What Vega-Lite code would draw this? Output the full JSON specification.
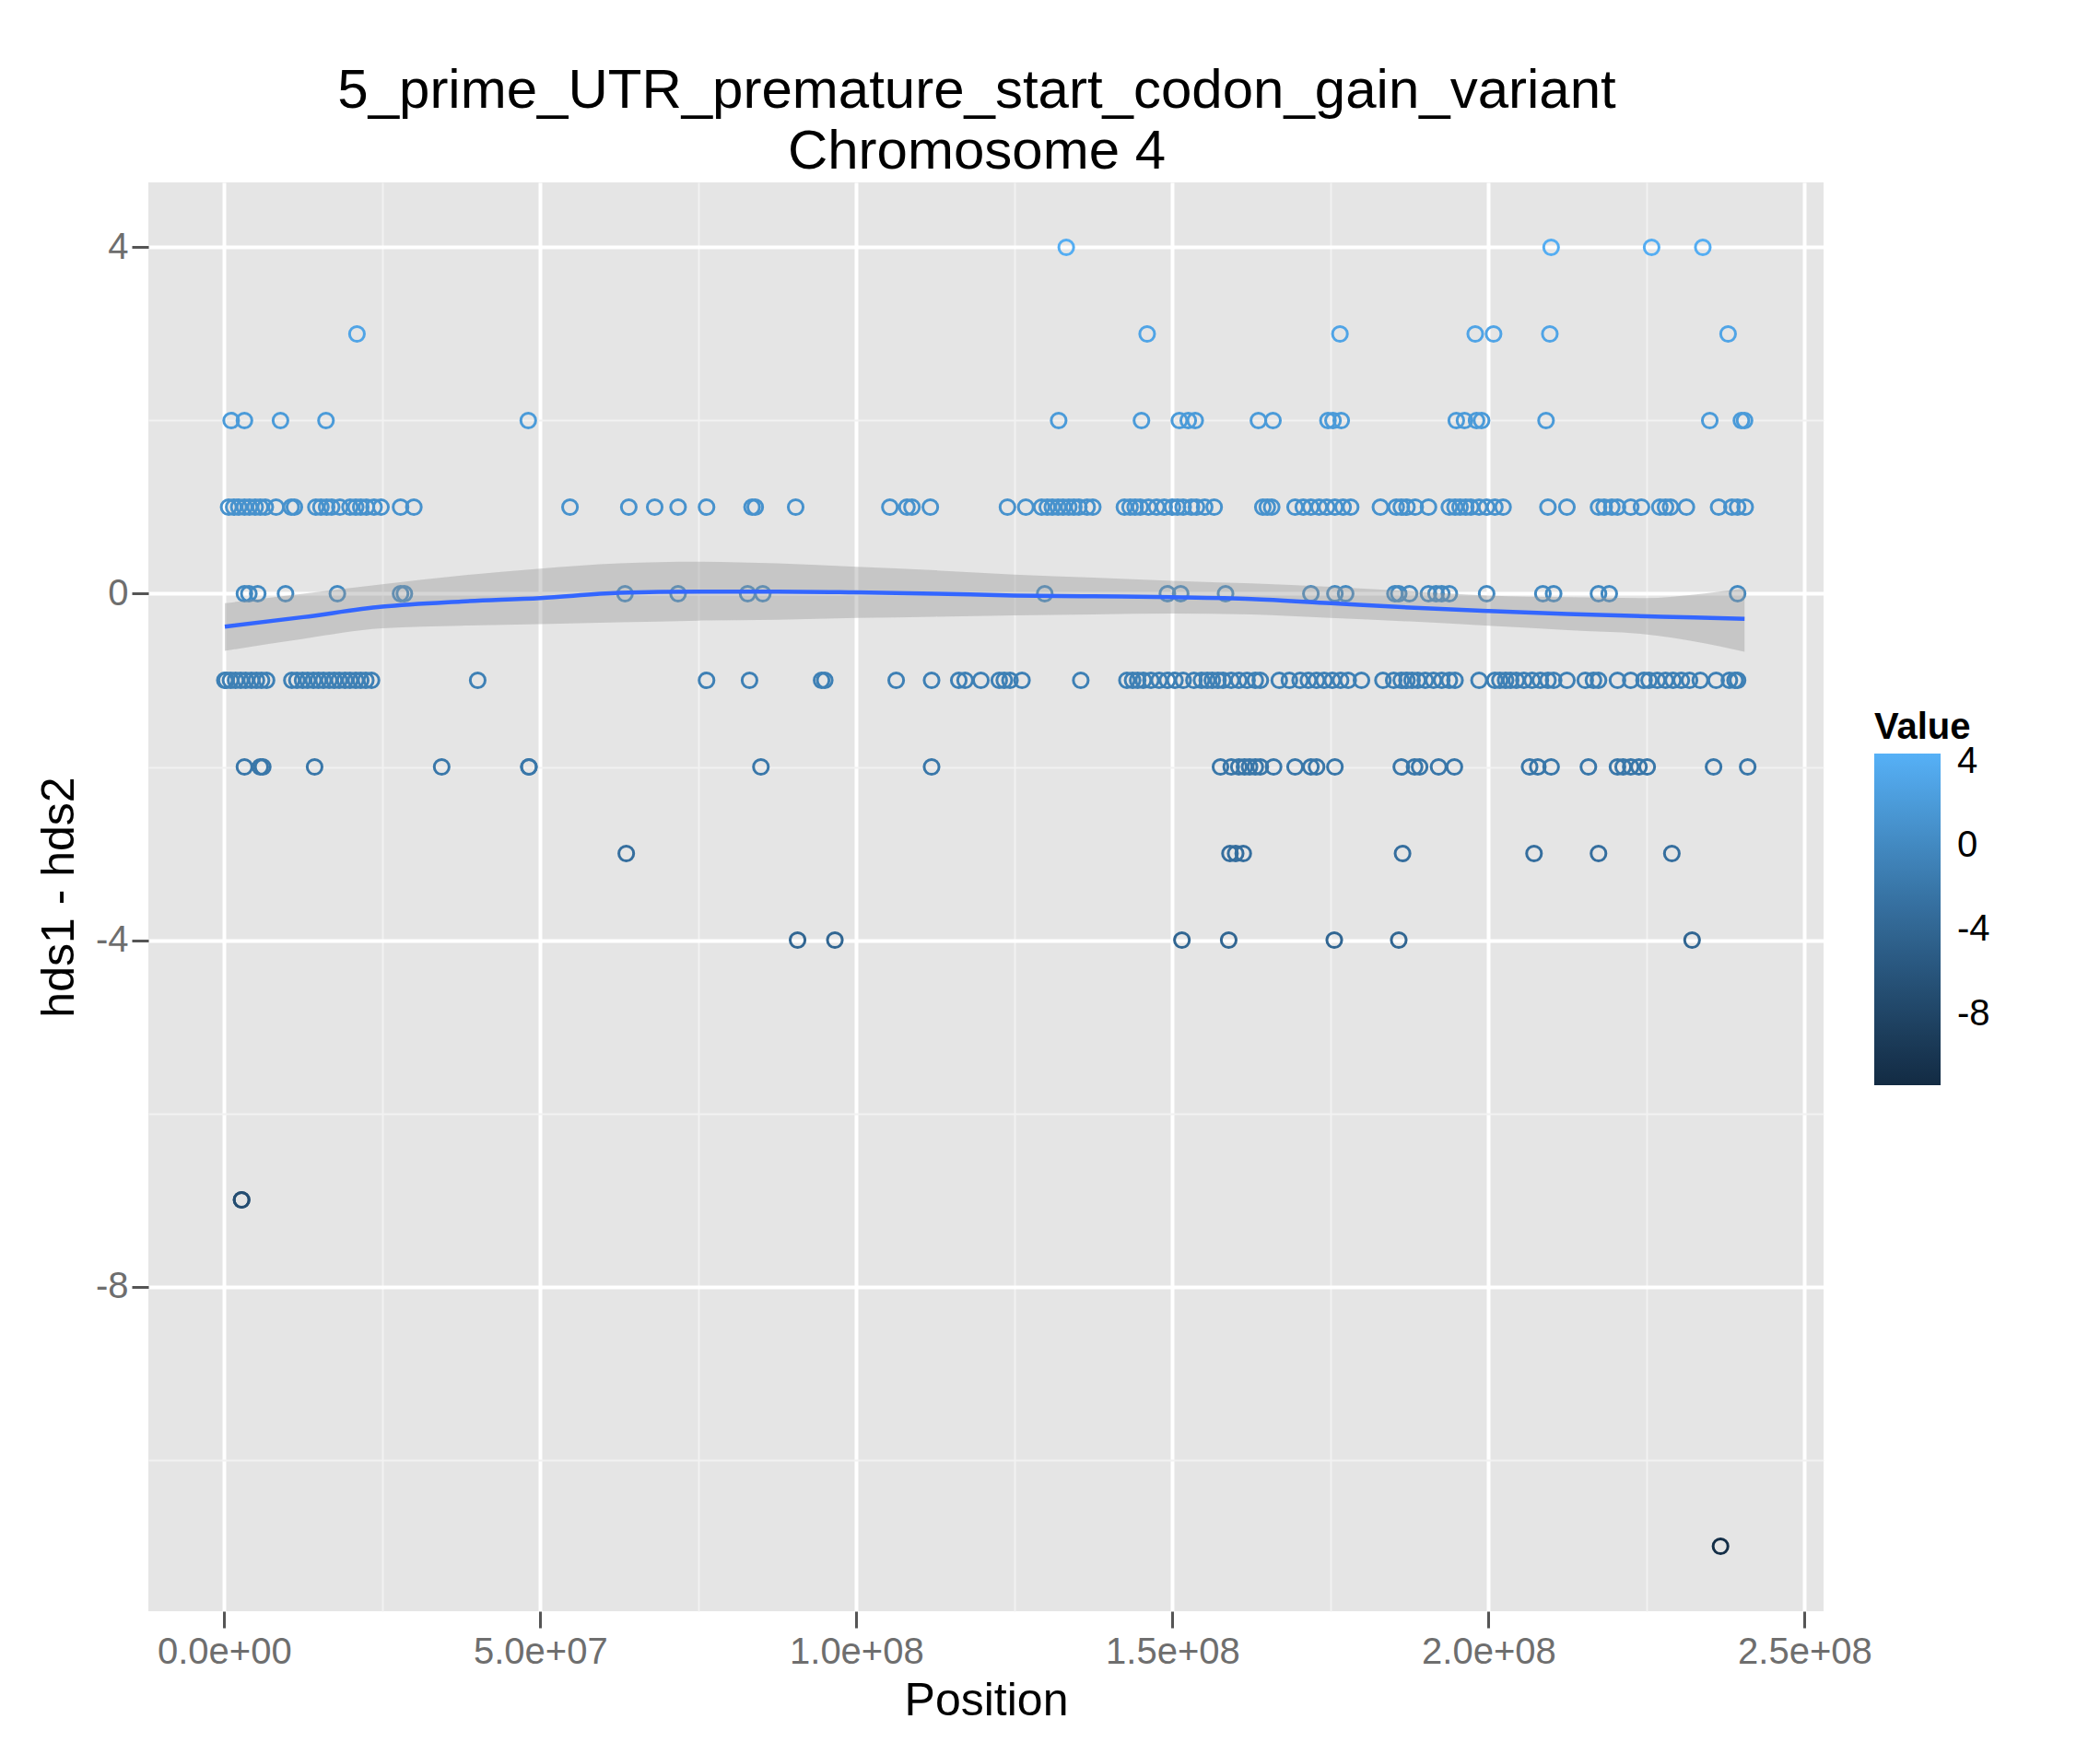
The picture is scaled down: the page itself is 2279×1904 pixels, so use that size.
{
  "$schema": "https://vega.github.io/schema/vega-lite/v6.json",
  "width": 1818,
  "height": 1551,
  "autosize": {"type": "none"},
  "padding": {"left": 161, "top": 198, "right": 300, "bottom": 155},
  "background": "white",
  "config": {
    "font": "Liberation Sans",
    "view": {"fill": "#E5E5E5", "stroke": null}
  },
  "title": {
    "text": ["5_prime_UTR_premature_start_codon_gain_variant", "Chromosome 4"],
    "fontSize": 60, "fontWeight": "normal", "color": "black",
    "anchor": "middle", "lineHeight": 66, "offset": 2, "dx": -10
  },
  "datasets": {
    "pts": [
      {"pos": 133200000, "v": 4}, {"pos": 209900000, "v": 4}, {"pos": 225800000, "v": 4}, {"pos": 233900000, "v": 4},
      {"pos": 21000000, "v": 3}, {"pos": 146000000, "v": 3}, {"pos": 176500000, "v": 3}, {"pos": 197900000, "v": 3},
      {"pos": 200800000, "v": 3}, {"pos": 209700000, "v": 3}, {"pos": 237900000, "v": 3},
      {"pos": 1100000, "v": 2}, {"pos": 3200000, "v": 2}, {"pos": 8900000, "v": 2}, {"pos": 16100000, "v": 2},
      {"pos": 48100000, "v": 2}, {"pos": 132000000, "v": 2}, {"pos": 145100000, "v": 2}, {"pos": 151100000, "v": 2},
      {"pos": 152500000, "v": 2}, {"pos": 153600000, "v": 2}, {"pos": 163600000, "v": 2}, {"pos": 165900000, "v": 2},
      {"pos": 174600000, "v": 2}, {"pos": 175400000, "v": 2}, {"pos": 176700000, "v": 2}, {"pos": 194900000, "v": 2},
      {"pos": 196200000, "v": 2}, {"pos": 198100000, "v": 2}, {"pos": 198900000, "v": 2}, {"pos": 209100000, "v": 2},
      {"pos": 235000000, "v": 2}, {"pos": 240000000, "v": 2}, {"pos": 240500000, "v": 2},
      {"pos": 700000, "v": 1}, {"pos": 1500000, "v": 1}, {"pos": 2300000, "v": 1}, {"pos": 3200000, "v": 1},
      {"pos": 4000000, "v": 1}, {"pos": 4900000, "v": 1}, {"pos": 5700000, "v": 1}, {"pos": 6500000, "v": 1},
      {"pos": 8200000, "v": 1}, {"pos": 10600000, "v": 1}, {"pos": 11100000, "v": 1}, {"pos": 14500000, "v": 1},
      {"pos": 15300000, "v": 1}, {"pos": 16200000, "v": 1}, {"pos": 17000000, "v": 1}, {"pos": 18300000, "v": 1},
      {"pos": 19900000, "v": 1}, {"pos": 20800000, "v": 1}, {"pos": 21600000, "v": 1}, {"pos": 22500000, "v": 1},
      {"pos": 23700000, "v": 1}, {"pos": 24800000, "v": 1}, {"pos": 27900000, "v": 1}, {"pos": 30000000, "v": 1},
      {"pos": 54700000, "v": 1}, {"pos": 64000000, "v": 1}, {"pos": 68100000, "v": 1}, {"pos": 71800000, "v": 1},
      {"pos": 76300000, "v": 1}, {"pos": 83500000, "v": 1}, {"pos": 84000000, "v": 1}, {"pos": 90400000, "v": 1},
      {"pos": 105300000, "v": 1}, {"pos": 108000000, "v": 1}, {"pos": 108800000, "v": 1}, {"pos": 111700000, "v": 1},
      {"pos": 123900000, "v": 1}, {"pos": 126800000, "v": 1}, {"pos": 129300000, "v": 1}, {"pos": 130200000, "v": 1},
      {"pos": 131000000, "v": 1}, {"pos": 131900000, "v": 1}, {"pos": 132700000, "v": 1}, {"pos": 133600000, "v": 1},
      {"pos": 134400000, "v": 1}, {"pos": 135200000, "v": 1}, {"pos": 136500000, "v": 1}, {"pos": 137400000, "v": 1},
      {"pos": 142400000, "v": 1}, {"pos": 143300000, "v": 1}, {"pos": 144100000, "v": 1}, {"pos": 144900000, "v": 1},
      {"pos": 146200000, "v": 1}, {"pos": 147500000, "v": 1}, {"pos": 148700000, "v": 1}, {"pos": 150000000, "v": 1},
      {"pos": 150800000, "v": 1}, {"pos": 151700000, "v": 1}, {"pos": 153000000, "v": 1}, {"pos": 153800000, "v": 1},
      {"pos": 155100000, "v": 1}, {"pos": 156600000, "v": 1}, {"pos": 164300000, "v": 1}, {"pos": 165000000, "v": 1},
      {"pos": 165700000, "v": 1}, {"pos": 169400000, "v": 1}, {"pos": 170700000, "v": 1}, {"pos": 171900000, "v": 1},
      {"pos": 173200000, "v": 1}, {"pos": 174400000, "v": 1}, {"pos": 175700000, "v": 1}, {"pos": 177000000, "v": 1},
      {"pos": 178200000, "v": 1}, {"pos": 182900000, "v": 1}, {"pos": 185400000, "v": 1}, {"pos": 186200000, "v": 1},
      {"pos": 187100000, "v": 1}, {"pos": 188400000, "v": 1}, {"pos": 190500000, "v": 1}, {"pos": 193800000, "v": 1},
      {"pos": 194700000, "v": 1}, {"pos": 195500000, "v": 1}, {"pos": 196400000, "v": 1}, {"pos": 197200000, "v": 1},
      {"pos": 198500000, "v": 1}, {"pos": 199700000, "v": 1}, {"pos": 201000000, "v": 1}, {"pos": 202300000, "v": 1},
      {"pos": 209400000, "v": 1}, {"pos": 212400000, "v": 1}, {"pos": 217400000, "v": 1}, {"pos": 218300000, "v": 1},
      {"pos": 219500000, "v": 1}, {"pos": 220400000, "v": 1}, {"pos": 222500000, "v": 1}, {"pos": 224200000, "v": 1},
      {"pos": 227100000, "v": 1}, {"pos": 228000000, "v": 1}, {"pos": 228800000, "v": 1}, {"pos": 231300000, "v": 1},
      {"pos": 236400000, "v": 1}, {"pos": 238500000, "v": 1}, {"pos": 239400000, "v": 1}, {"pos": 240600000, "v": 1},
      {"pos": 3200000, "v": 0}, {"pos": 3900000, "v": 0}, {"pos": 5300000, "v": 0}, {"pos": 9700000, "v": 0},
      {"pos": 17900000, "v": 0}, {"pos": 27900000, "v": 0}, {"pos": 28500000, "v": 0}, {"pos": 63400000, "v": 0},
      {"pos": 71800000, "v": 0}, {"pos": 82800000, "v": 0}, {"pos": 85200000, "v": 0}, {"pos": 129800000, "v": 0},
      {"pos": 149200000, "v": 0}, {"pos": 151300000, "v": 0}, {"pos": 158400000, "v": 0}, {"pos": 171900000, "v": 0},
      {"pos": 175700000, "v": 0}, {"pos": 177400000, "v": 0}, {"pos": 185200000, "v": 0}, {"pos": 185800000, "v": 0},
      {"pos": 187500000, "v": 0}, {"pos": 190500000, "v": 0}, {"pos": 191700000, "v": 0}, {"pos": 192600000, "v": 0},
      {"pos": 193800000, "v": 0}, {"pos": 199700000, "v": 0}, {"pos": 208600000, "v": 0}, {"pos": 210300000, "v": 0},
      {"pos": 217400000, "v": 0}, {"pos": 219100000, "v": 0}, {"pos": 239400000, "v": 0},
      {"pos": 100000, "v": -1}, {"pos": 300000, "v": -1}, {"pos": 1000000, "v": -1}, {"pos": 1800000, "v": -1},
      {"pos": 2600000, "v": -1}, {"pos": 3400000, "v": -1}, {"pos": 4300000, "v": -1}, {"pos": 5100000, "v": -1},
      {"pos": 5900000, "v": -1}, {"pos": 6700000, "v": -1}, {"pos": 10700000, "v": -1}, {"pos": 11500000, "v": -1},
      {"pos": 12400000, "v": -1}, {"pos": 13200000, "v": -1}, {"pos": 14100000, "v": -1}, {"pos": 14900000, "v": -1},
      {"pos": 15700000, "v": -1}, {"pos": 16600000, "v": -1}, {"pos": 17400000, "v": -1}, {"pos": 18200000, "v": -1},
      {"pos": 19100000, "v": -1}, {"pos": 19900000, "v": -1}, {"pos": 20800000, "v": -1}, {"pos": 21600000, "v": -1},
      {"pos": 22400000, "v": -1}, {"pos": 23300000, "v": -1}, {"pos": 40100000, "v": -1}, {"pos": 76300000, "v": -1},
      {"pos": 83100000, "v": -1}, {"pos": 94500000, "v": -1}, {"pos": 95000000, "v": -1}, {"pos": 106300000, "v": -1},
      {"pos": 111900000, "v": -1}, {"pos": 116200000, "v": -1}, {"pos": 117200000, "v": -1}, {"pos": 119700000, "v": -1},
      {"pos": 122600000, "v": -1}, {"pos": 123400000, "v": -1}, {"pos": 124300000, "v": -1}, {"pos": 126200000, "v": -1},
      {"pos": 135500000, "v": -1}, {"pos": 142800000, "v": -1}, {"pos": 143700000, "v": -1}, {"pos": 144500000, "v": -1},
      {"pos": 145400000, "v": -1}, {"pos": 146600000, "v": -1}, {"pos": 147900000, "v": -1}, {"pos": 149200000, "v": -1},
      {"pos": 150400000, "v": -1}, {"pos": 151700000, "v": -1}, {"pos": 153400000, "v": -1}, {"pos": 154600000, "v": -1},
      {"pos": 155500000, "v": -1}, {"pos": 156300000, "v": -1}, {"pos": 157200000, "v": -1}, {"pos": 158000000, "v": -1},
      {"pos": 159300000, "v": -1}, {"pos": 160500000, "v": -1}, {"pos": 161800000, "v": -1}, {"pos": 163100000, "v": -1},
      {"pos": 163900000, "v": -1}, {"pos": 166900000, "v": -1}, {"pos": 168500000, "v": -1}, {"pos": 170200000, "v": -1},
      {"pos": 171500000, "v": -1}, {"pos": 172800000, "v": -1}, {"pos": 174000000, "v": -1}, {"pos": 175300000, "v": -1},
      {"pos": 176600000, "v": -1}, {"pos": 177800000, "v": -1}, {"pos": 179900000, "v": -1}, {"pos": 183300000, "v": -1},
      {"pos": 185000000, "v": -1}, {"pos": 186200000, "v": -1}, {"pos": 187100000, "v": -1}, {"pos": 187900000, "v": -1},
      {"pos": 188800000, "v": -1}, {"pos": 190000000, "v": -1}, {"pos": 191300000, "v": -1}, {"pos": 192600000, "v": -1},
      {"pos": 193800000, "v": -1}, {"pos": 194700000, "v": -1}, {"pos": 198500000, "v": -1}, {"pos": 201000000, "v": -1},
      {"pos": 201800000, "v": -1}, {"pos": 202700000, "v": -1}, {"pos": 203500000, "v": -1}, {"pos": 204400000, "v": -1},
      {"pos": 205600000, "v": -1}, {"pos": 206900000, "v": -1}, {"pos": 208200000, "v": -1}, {"pos": 209400000, "v": -1},
      {"pos": 210300000, "v": -1}, {"pos": 212400000, "v": -1}, {"pos": 215300000, "v": -1}, {"pos": 216600000, "v": -1},
      {"pos": 217400000, "v": -1}, {"pos": 220400000, "v": -1}, {"pos": 222500000, "v": -1}, {"pos": 224600000, "v": -1},
      {"pos": 225400000, "v": -1}, {"pos": 226700000, "v": -1}, {"pos": 228000000, "v": -1}, {"pos": 229200000, "v": -1},
      {"pos": 230500000, "v": -1}, {"pos": 231800000, "v": -1}, {"pos": 233500000, "v": -1}, {"pos": 236000000, "v": -1},
      {"pos": 238100000, "v": -1}, {"pos": 239000000, "v": -1}, {"pos": 239400000, "v": -1},
      {"pos": 3200000, "v": -2}, {"pos": 5700000, "v": -2}, {"pos": 6100000, "v": -2}, {"pos": 14300000, "v": -2},
      {"pos": 34400000, "v": -2}, {"pos": 48200000, "v": -2}, {"pos": 48200000, "v": -2}, {"pos": 84900000, "v": -2},
      {"pos": 111900000, "v": -2}, {"pos": 157600000, "v": -2}, {"pos": 159300000, "v": -2}, {"pos": 160500000, "v": -2},
      {"pos": 161400000, "v": -2}, {"pos": 162200000, "v": -2}, {"pos": 163100000, "v": -2}, {"pos": 163900000, "v": -2},
      {"pos": 166000000, "v": -2}, {"pos": 169400000, "v": -2}, {"pos": 171900000, "v": -2}, {"pos": 172800000, "v": -2},
      {"pos": 175700000, "v": -2}, {"pos": 186200000, "v": -2}, {"pos": 188300000, "v": -2}, {"pos": 189100000, "v": -2},
      {"pos": 192100000, "v": -2}, {"pos": 194600000, "v": -2}, {"pos": 206500000, "v": -2}, {"pos": 207800000, "v": -2},
      {"pos": 209900000, "v": -2}, {"pos": 215800000, "v": -2}, {"pos": 220400000, "v": -2}, {"pos": 221300000, "v": -2},
      {"pos": 222500000, "v": -2}, {"pos": 223800000, "v": -2}, {"pos": 225100000, "v": -2}, {"pos": 235600000, "v": -2},
      {"pos": 241000000, "v": -2},
      {"pos": 63600000, "v": -3}, {"pos": 159100000, "v": -3}, {"pos": 160000000, "v": -3}, {"pos": 161200000, "v": -3},
      {"pos": 186400000, "v": -3}, {"pos": 207200000, "v": -3}, {"pos": 217400000, "v": -3}, {"pos": 229000000, "v": -3},
      {"pos": 90700000, "v": -4}, {"pos": 96600000, "v": -4}, {"pos": 151500000, "v": -4}, {"pos": 158900000, "v": -4},
      {"pos": 175600000, "v": -4}, {"pos": 185800000, "v": -4}, {"pos": 232200000, "v": -4},
      {"pos": 2750000, "v": -7}, {"pos": 2750000, "v": -7},
      {"pos": 236700000, "v": -11}
    ],
    "fit": [
      {"pos": 100000, "v": -0.38},
      {"pos": 12500000, "v": -0.27},
      {"pos": 25000000, "v": -0.15},
      {"pos": 37500000, "v": -0.09},
      {"pos": 50000000, "v": -0.05},
      {"pos": 62500000, "v": 0.01},
      {"pos": 75000000, "v": 0.025},
      {"pos": 87500000, "v": 0.025},
      {"pos": 100000000, "v": 0.015},
      {"pos": 112500000, "v": 0.0},
      {"pos": 125000000, "v": -0.02},
      {"pos": 137500000, "v": -0.03},
      {"pos": 150000000, "v": -0.04},
      {"pos": 162500000, "v": -0.06},
      {"pos": 175000000, "v": -0.11},
      {"pos": 187500000, "v": -0.16},
      {"pos": 200000000, "v": -0.2},
      {"pos": 212500000, "v": -0.235},
      {"pos": 225000000, "v": -0.26},
      {"pos": 232500000, "v": -0.275},
      {"pos": 240500000, "v": -0.29}
    ],
    "band": [
      {"pos": 100000, "v": -0.66, "hi": -0.11},
      {"pos": 12500000, "v": -0.52, "hi": 0.0},
      {"pos": 25000000, "v": -0.4, "hi": 0.11},
      {"pos": 37500000, "v": -0.37, "hi": 0.21},
      {"pos": 50000000, "v": -0.35, "hi": 0.29},
      {"pos": 62500000, "v": -0.33, "hi": 0.35},
      {"pos": 75000000, "v": -0.31, "hi": 0.37},
      {"pos": 87500000, "v": -0.3, "hi": 0.35},
      {"pos": 100000000, "v": -0.28, "hi": 0.31},
      {"pos": 112500000, "v": -0.265, "hi": 0.27},
      {"pos": 125000000, "v": -0.25, "hi": 0.22},
      {"pos": 137500000, "v": -0.24, "hi": 0.185},
      {"pos": 150000000, "v": -0.23, "hi": 0.15},
      {"pos": 162500000, "v": -0.24, "hi": 0.12},
      {"pos": 175000000, "v": -0.28, "hi": 0.08},
      {"pos": 187500000, "v": -0.32, "hi": 0.03},
      {"pos": 200000000, "v": -0.37, "hi": -0.02},
      {"pos": 212500000, "v": -0.42, "hi": -0.04},
      {"pos": 225000000, "v": -0.47, "hi": -0.05},
      {"pos": 232500000, "v": -0.55, "hi": -0.01},
      {"pos": 240500000, "v": -0.67, "hi": 0.06}
    ]
  },
  "encoding": {
    "x": {
      "field": "pos", "type": "quantitative", "title": "Position",
      "scale": {"domain": [-12000000, 253000000], "nice": false, "zero": false},
      "axis": {
        "values": [0, 25000000, 50000000, 75000000, 100000000, 125000000, 150000000, 175000000, 200000000, 225000000, 250000000],
        "labelExpr": "datum.value % 50000000 === 0 ? replace(format(datum.value, '.1e'), 'e+', 'e+0') : ''",
        "domain": false, "grid": true,
        "gridColor": {"condition": {"test": "datum.value % 50000000 === 0", "value": "#FFFFFF"}, "value": "#F2F2F2"},
        "gridWidth": {"condition": {"test": "datum.value % 50000000 === 0", "value": 4}, "value": 2},
        "tickOpacity": {"condition": {"test": "datum.value % 50000000 === 0", "value": 1}, "value": 0},
        "tickColor": "#555555", "tickSize": 18, "tickWidth": 3,
        "labelFontSize": 40, "labelColor": "#6E6E6E", "labelPadding": 6, "labelOverlap": false,
        "titleFontSize": 50, "titleFontWeight": "normal", "titleColor": "black", "titlePadding": 8
      }
    },
    "y": {
      "field": "v", "type": "quantitative", "title": "hds1 - hds2",
      "scale": {"domain": [-11.75, 4.75], "nice": false, "zero": false},
      "axis": {
        "values": [-10, -8, -6, -4, -2, 0, 2, 4],
        "labelExpr": "datum.value % 4 === 0 ? '' + datum.value : ''",
        "domain": false, "grid": true,
        "gridColor": {"condition": {"test": "datum.value % 4 === 0", "value": "#FFFFFF"}, "value": "#F2F2F2"},
        "gridWidth": {"condition": {"test": "datum.value % 4 === 0", "value": 4}, "value": 2},
        "tickOpacity": {"condition": {"test": "datum.value % 4 === 0", "value": 1}, "value": 0},
        "tickColor": "#555555", "tickSize": 18, "tickWidth": 3,
        "labelFontSize": 40, "labelColor": "#6E6E6E", "labelPadding": 4, "labelOverlap": false,
        "titleFontSize": 50, "titleFontWeight": "normal", "titleColor": "black", "titlePadding": 14
      }
    }
  },
  "layer": [
    {
      "data": {"name": "pts"},
      "mark": {"type": "point", "shape": "circle", "filled": false, "size": 260, "strokeWidth": 3, "opacity": 1},
      "encoding": {
        "color": {
          "field": "v", "type": "quantitative",
          "scale": {"domain": [-11.375, 4.375], "range": ["#132B43", "#56B1F7"], "interpolate": "lab"},
          "legend": {
            "title": "Value", "orient": "none", "legendX": 1873, "legendY": 572,
            "direction": "vertical", "gradientLength": 360, "gradientThickness": 72,
            "gradientStrokeWidth": 0, "values": [4, 0, -4, -8], "labelOverlap": false,
            "labelExpr": "'' + datum.value",
            "titleFontSize": 40, "titleFontWeight": "bold", "titleColor": "black", "titlePadding": 8,
            "labelFontSize": 40, "labelColor": "black", "labelOffset": 18
          }
        }
      }
    },
    {
      "data": {"name": "band"},
      "mark": {"type": "area", "color": "#999999", "opacity": 0.4, "interpolate": "monotone"},
      "encoding": {"y2": {"field": "hi"}}
    },
    {
      "data": {"name": "fit"},
      "mark": {"type": "line", "color": "#3366FF", "strokeWidth": 4.5, "interpolate": "monotone"},
      "encoding": {}
    }
  ]
}
